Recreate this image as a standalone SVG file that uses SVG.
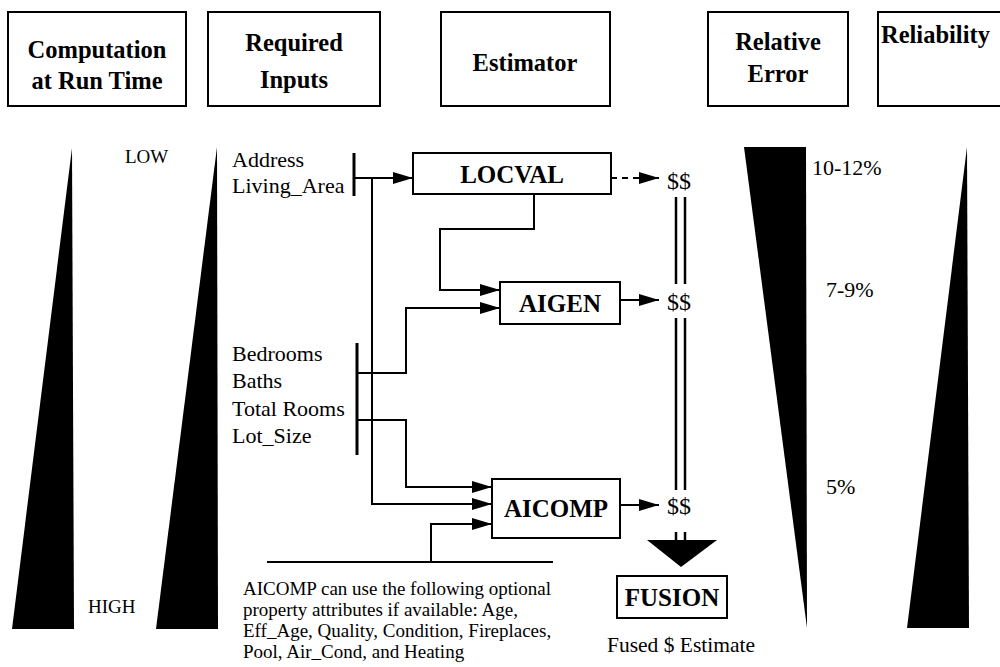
<svg xmlns="http://www.w3.org/2000/svg" width="1000" height="667" viewBox="0 0 1000 667">
<defs>
<style>
text{font-family:"Times New Roman","Liberation Serif",Tinos,"DejaVu Serif",serif;fill:#000}
.hd{font-size:24.5px;font-weight:bold;text-anchor:middle}
.nd{font-size:25px;font-weight:bold;text-anchor:middle}
.bd{font-size:22px}
.dl{font-size:24px}
.sm{font-size:19px}
.box{fill:#fff;stroke:#000;stroke-width:2}
.ln{fill:none;stroke:#000;stroke-width:2}
.bar{fill:none;stroke:#000;stroke-width:3}
.dbl{fill:none;stroke:#000;stroke-width:2.5}
.tri{fill:#000;stroke:none}
</style>
<marker id="ah" markerUnits="userSpaceOnUse" markerWidth="20" markerHeight="12" refX="20" refY="6" orient="auto">
<path d="M0,0 L20,6 L0,12 z" fill="#000"/>
</marker>
</defs>
<rect width="1000" height="667" fill="#fff"/>

<g id="header-computation">
<rect class="box" x="8" y="12" width="178" height="94"/>
<text class="hd" x="97" y="58">Computation</text>
<text class="hd" x="97" y="89">at Run Time</text>
</g>
<g id="header-inputs">
<rect class="box" x="208" y="12" width="172" height="94"/>
<text class="hd" x="294" y="51">Required</text>
<text class="hd" x="294" y="88">Inputs</text>
</g>
<g id="header-estimator">
<rect class="box" x="441" y="12" width="169" height="94"/>
<text class="hd" x="525" y="71">Estimator</text>
</g>
<g id="header-error">
<rect class="box" x="708" y="12" width="140" height="94"/>
<text class="hd" x="778" y="50">Relative</text>
<text class="hd" x="778" y="82">Error</text>
</g>
<g id="header-reliability">
<rect class="box" x="878" y="12" width="130" height="94"/>
<text class="hd" x="881" y="43" style="text-anchor:start">Reliability</text>
</g>

<g id="computation-scale">
<polygon class="tri" points="72,148 74,629 12,629"/>
<polygon class="tri" points="217,147 218,629 156,629"/>
<text class="sm" x="125" y="163">LOW</text>
<text class="sm" x="88" y="613">HIGH</text>
</g>

<g id="error-scale">
<polygon class="tri" points="744,147 806,147 807,628"/>
<text class="bd" x="812" y="175">10-12%</text>
<text class="bd" x="826" y="297">7-9%</text>
<text class="bd" x="826" y="494">5%</text>
</g>
<g id="reliability-scale">
<polygon class="tri" points="967,147 969,628 907,628"/>
</g>

<g id="inputs-basic">
<text class="bd" x="232" y="167">Address</text>
<text class="bd" x="232" y="193">Living_Area</text>
<line class="bar" x1="354" y1="153" x2="354" y2="196"/>
</g>
<g id="inputs-extra">
<text class="bd" x="232" y="361">Bedrooms</text>
<text class="bd" x="232" y="388">Baths</text>
<text class="bd" x="232" y="416">Total Rooms</text>
<text class="bd" x="232" y="443">Lot_Size</text>
<line class="bar" x1="357" y1="343" x2="357" y2="455"/>
</g>
<g id="inputs-optional">
<line class="ln" x1="267" y1="562" x2="553" y2="562"/>
<text class="sm" x="243" y="595">AICOMP can use the following optional</text>
<text class="sm" x="243" y="616">property attributes if available: Age,</text>
<text class="sm" x="243" y="637">Eff_Age, Quality, Condition, Fireplaces,</text>
<text class="sm" x="243" y="658">Pool, Air_Cond, and Heating</text>
</g>

<g id="locval">
<rect class="box" x="413" y="153" width="198" height="41"/>
<text class="nd" x="512" y="183">LOCVAL</text>
</g>
<g id="aigen">
<rect class="box" x="500" y="282" width="120" height="42"/>
<text class="nd" x="560" y="312">AIGEN</text>
</g>
<g id="aicomp">
<rect class="box" x="492" y="479" width="128" height="59"/>
<text class="nd" x="556" y="517">AICOMP</text>
</g>
<g id="outputs">
<text class="dl" x="667" y="189">$$</text>
<text class="dl" x="667" y="310">$$</text>
<text class="dl" x="667" y="514">$$</text>
</g>
<g id="fusion">
<polygon class="tri" points="647,540 717,540 681,567"/>
<rect class="box" x="617" y="576" width="110" height="42"/>
<text class="nd" x="672" y="606">FUSION</text>
<text class="bd" x="607" y="652" style="font-size:21.5px">Fused $ Estimate</text>
</g>

<g id="connectors">
<polyline class="ln" points="354,178 413,178" marker-end="url(#ah)"/>
<polyline class="ln" points="372,178 372,504 492,504" marker-end="url(#ah)"/>
<polyline class="ln" points="357,373 406,373 406,308 500,308" marker-end="url(#ah)"/>
<polyline class="ln" points="357,420 406,420 406,487 492,487" marker-end="url(#ah)"/>
<polyline class="ln" points="534,194 534,229 440,229 440,290 500,290" marker-end="url(#ah)"/>
<polyline class="ln" points="431,562 431,524 492,524" marker-end="url(#ah)"/>
<line class="ln" x1="611" y1="178" x2="659" y2="178" stroke-dasharray="6,5" marker-end="url(#ah)"/>
<line class="ln" x1="620" y1="300" x2="659" y2="300" marker-end="url(#ah)"/>
<line class="ln" x1="620" y1="505" x2="659" y2="505" marker-end="url(#ah)"/>
<line class="dbl" x1="676" y1="197" x2="676" y2="284"/>
<line class="dbl" x1="685" y1="197" x2="685" y2="284"/>
<line class="dbl" x1="676" y1="318" x2="676" y2="490"/>
<line class="dbl" x1="685" y1="318" x2="685" y2="490"/>
<line class="dbl" x1="676" y1="532" x2="676" y2="545"/>
<line class="dbl" x1="685" y1="532" x2="685" y2="545"/>
</g>
</svg>
